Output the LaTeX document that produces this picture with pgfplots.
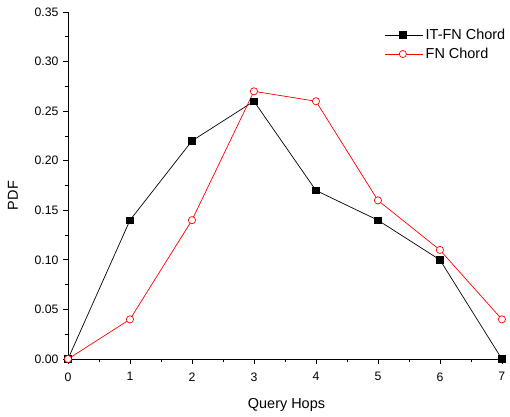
\documentclass[border=0pt]{standalone}
\usepackage{fontspec}
\setmainfont{Liberation Sans}
\usepackage{pgfplots}
\pgfplotsset{compat=1.18}
\begin{document}
\begin{tikzpicture}
\begin{axis}[
    scale only axis,
    width=437bp,
    height=347bp,
    xmin=0, xmax=7.05,
    ymin=0, ymax=0.35,
    axis x line*=bottom,
    axis y line*=left,
    axis line style={line width=0.8pt},
    tick align=outside,
    tick style={black, line width=0.8pt},
    major tick length=5bp,
    minor tick length=3bp,
    xtick={0,1,...,7},
    minor xtick={0.5,1.5,...,6.5},
    ytick={0,0.05,...,0.35},
    minor ytick={0.025,0.075,...,0.325},
    yticklabel style={xshift=-1bp, /pgf/number format/.cd, fixed, fixed zerofill, precision=2},
    /pgf/number format/assume math mode=true,
    tick label style={font=\fontsize{12.3}{14}\selectfont},
    xticklabel style={yshift=-5bp},
    label style={font=\fontsize{14.5}{17}\selectfont},
    xlabel={Query Hops},
    ylabel={PDF},
    xlabel style={at={(axis description cs:0.5,0)}, anchor=base, yshift=-49bp},
    ylabel style={at={(axis description cs:-0.126,0.471)}, anchor=center},
    clip=false,
    legend style={draw=none, fill=none, at={(axis description cs:0.725,0.957)}, anchor=north west,
      inner sep=0pt, font=\fontsize{14.5}{17}\selectfont, row sep=3bp},
    legend cell align=left,
    legend image code/.code={
      \path (0bp,0bp) -- (38bp,0bp);
      \draw[#1] (0bp,0bp) -- (35bp,0bp);
      \draw[#1, only marks] plot coordinates {(17.5bp,0bp)};
    },
]
\addplot[black, line width=0.7pt, mark=square*, mark size=3.3bp, mark options={solid}]
  coordinates {(0,0) (1,0.14) (2,0.22) (3,0.26) (4,0.17) (5,0.14) (6,0.10) (7,0)};
\addlegendentry{IT-FN Chord}
\addplot[red, line width=0.7pt, mark=*, mark size=3.6bp, mark options={fill=white, draw=red}]
  coordinates {(0,0) (1,0.04) (2,0.14) (3,0.27) (4,0.26) (5,0.16) (6,0.11) (7,0.04)};
\addlegendentry{FN Chord}
\end{axis}
\pgfresetboundingbox
\path (current axis.south west) ++(-68bp,-58bp) rectangle ++(510bp,417bp);
\end{tikzpicture}
\end{document}
